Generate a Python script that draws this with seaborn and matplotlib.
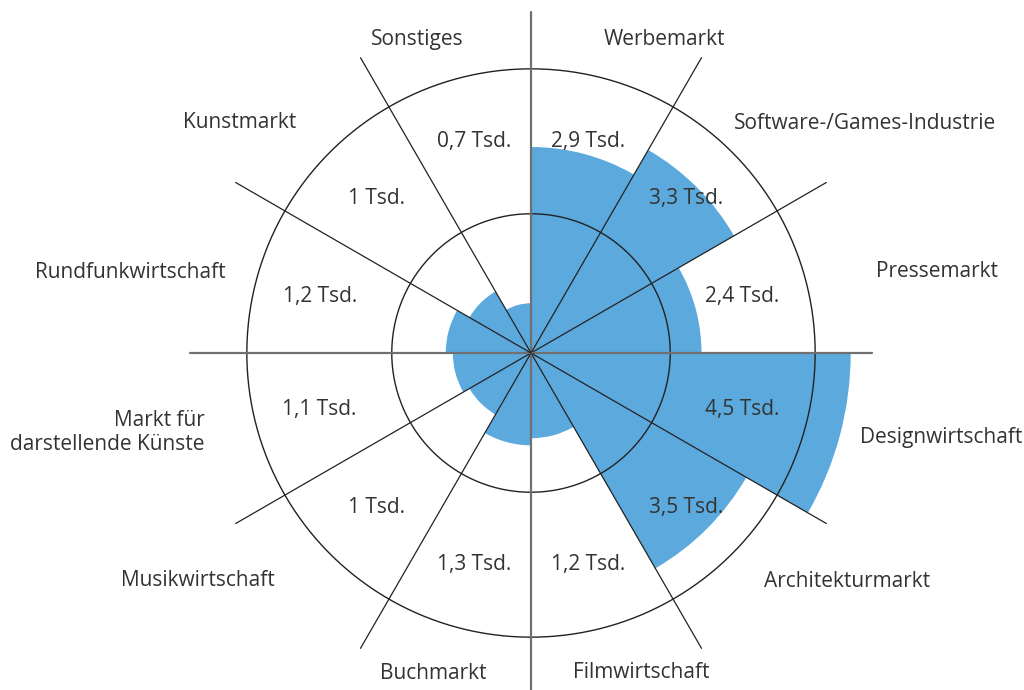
import numpy as np
import seaborn as sns
import matplotlib.pyplot as plt

# Daten (Tsd.), im Uhrzeigersinn ab 12 Uhr
kategorien = ["Werbemarkt", "Software-/Games-Industrie", "Pressemarkt", "Designwirtschaft",
              "Architekturmarkt", "Filmwirtschaft", "Buchmarkt", "Musikwirtschaft",
              "Markt für\ndarstellende Künste", "Rundfunkwirtschaft", "Kunstmarkt", "Sonstiges"]
werte = [2.9, 3.3, 2.4, 4.5, 3.5, 1.2, 1.3, 1.0, 1.1, 1.2, 1.0, 0.7]
wert_labels = ["2,9 Tsd.", "3,3 Tsd.", "2,4 Tsd.", "4,5 Tsd.", "3,5 Tsd.", "1,2 Tsd.",
               "1,3 Tsd.", "1 Tsd.", "1,1 Tsd.", "1,2 Tsd.", "1 Tsd.", "0,7 Tsd."]

# Lage der Kategorie-Beschriftungen (Winkel in Grad ab Norden, Radius)
label_pos = [(23, 4.79), (55.5, 5.70), (78.7, 5.83), (101.6, 5.89), (125.8, 5.49), (161, 4.76),
             (197, 4.72), (235.6, 5.68), (259.4, 6.07), (281.4, 5.76), (308.3, 5.23), (340, 4.69)]

sns.set_theme(style="white")
plt.rcParams['font.family'] = ['Open Sans', 'DejaVu Sans']
blau = "#5ba9dd"
textfarbe = "#333333"

fig = plt.figure(figsize=(10.24, 6.9), dpi=100)
ax = fig.add_axes([190 / 1024, -4 / 690, 682 / 1024, 682 / 690], projection="polar")
ax.set_theta_zero_location("N")
ax.set_theta_direction(-1)
rmax = 4.8
ax.set_ylim(0, rmax)
ax.grid(False)
ax.set_xticks([])
ax.set_yticks([])
ax.spines["polar"].set_visible(False)

n = len(werte)
breite = 2 * np.pi / n
mitten = np.arange(n) * breite + breite / 2
ax.bar(mitten, werte, width=breite, color=blau, linewidth=0, zorder=1)

# Kreise
t = np.linspace(0, 2 * np.pi, 400)
for r in [1.96, 4]:
    ax.plot(t, np.full_like(t, r), color="#222222", lw=1.0, zorder=3)

# Speichen
for i in range(n):
    w = i * breite
    if i % 3 == 0:
        ax.plot([w, w], [0, rmax], color="#707070", lw=1.6, zorder=3, clip_on=False)
    else:
        ax.plot([w, w], [0, rmax], color="#222222", lw=0.9, zorder=3, clip_on=False)

for m, lab in zip(mitten, wert_labels):
    ax.text(m, 3.08, lab, ha="center", va="center", fontsize=15, color=textfarbe, zorder=4)

for (wink, r), kat in zip(label_pos, kategorien):
    ax.text(np.deg2rad(wink), r, kat, ha="center", va="center", fontsize=15,
            color=textfarbe, multialignment="right", clip_on=False, zorder=4)

fig.savefig("out.png", dpi=100)
